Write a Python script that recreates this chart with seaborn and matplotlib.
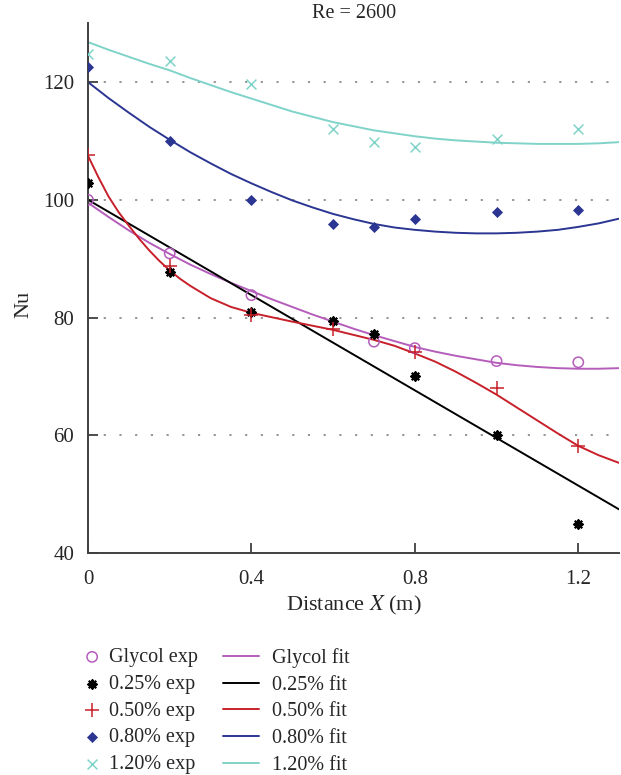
import matplotlib
matplotlib.use('Agg')
import matplotlib.pyplot as plt
import seaborn as sns
import pandas as pd

# experimental points
x_glycol = [0, 0.2, 0.4, 0.7, 0.8, 1.0, 1.2]
nu_glycol = [100, 90.9, 83.8, 75.9, 74.8, 72.6, 72.4]
x_025 = [0, 0.2, 0.4, 0.6, 0.7, 0.8, 1.0, 1.2]
nu_025 = [102.8, 87.8, 80.9, 79.4, 77.2, 70.1, 60.1, 44.9]
x_050 = [0, 0.2, 0.4, 0.6, 0.8, 1.0, 1.2]
nu_050 = [107.6, 88.8, 80.4, 78.1, 74.2, 68.0, 58.1]
x_080 = [0, 0.2, 0.4, 0.6, 0.7, 0.8, 1.0, 1.2]
nu_080 = [122.6, 110.0, 99.9, 95.9, 95.3, 96.8, 97.9, 98.3]
x_120 = [0, 0.2, 0.4, 0.6, 0.7, 0.8, 1.0, 1.2]
nu_120 = [124.8, 123.6, 119.7, 112.0, 109.8, 108.9, 110.4, 112.0]

# fitted curves
xf = [0, 0.05, 0.1, 0.15, 0.2, 0.25, 0.3, 0.35, 0.4, 0.45, 0.5, 0.55, 0.6, 0.65, 0.7,
      0.75, 0.8, 0.85, 0.9, 0.95, 1.0, 1.05, 1.1, 1.15, 1.2, 1.25, 1.3]
fit_glycol = [99.5, 97.1, 94.8, 92.7, 90.8, 89.0, 87.4, 85.9, 84.5, 83.1, 81.8, 80.5, 79.3,
              78.1, 77.0, 76.0, 75.0, 74.2, 73.5, 72.9, 72.3, 71.9, 71.6, 71.4, 71.3, 71.3, 71.4]
fit_080 = [120.0, 117.3, 114.8, 112.4, 110.2, 108.1, 106.2, 104.4, 102.8, 101.3, 99.9, 98.7,
           97.6, 96.7, 95.9, 95.3, 94.9, 94.6, 94.4, 94.3, 94.3, 94.4, 94.6, 94.9, 95.4, 96.0, 96.8]
fit_120 = [126.8, 125.5, 124.3, 123.1, 122.0, 120.7, 119.5, 118.3, 117.2, 116.1, 115.0, 114.1,
           113.2, 112.5, 111.8, 111.3, 110.8, 110.4, 110.1, 109.9, 109.7, 109.6, 109.5, 109.5,
           109.5, 109.6, 109.8]
xf_025 = [0, 1.3]
fit_025 = [100.0, 47.4]
xf_050 = [0, 0.025, 0.05, 0.075, 0.1, 0.125, 0.15, 0.175, 0.2, 0.225, 0.25, 0.3, 0.35, 0.4, 0.5,
          0.6, 0.7, 0.75, 0.8, 0.85, 0.9, 0.95, 1.0, 1.05, 1.1, 1.15, 1.2, 1.25, 1.3]
fit_050 = [107.5, 103.9, 100.6, 97.9, 95.6, 93.4, 91.4, 89.6, 88.0, 86.6, 85.4, 83.3, 81.8, 80.8,
           79.3, 77.9, 76.2, 75.2, 73.9, 72.5, 70.8, 68.9, 66.9, 64.7, 62.5, 60.3, 58.2, 56.6, 55.3]

c_glycol = '#b55dbb'
c_025 = '#000000'
c_050 = '#c8202b'
c_080 = '#2b3592'
c_120 = '#7fd3c8'

sns.set_style('ticks')
plt.rcParams['font.family'] = ['Liberation Serif', 'DejaVu Serif']
plt.rcParams['mathtext.fontset'] = 'stix'

fig = plt.figure(figsize=(6.21, 7.75), dpi=100)
ax = fig.add_axes([0.1417, 0.2865, 0.8553, 0.6835])

# gridlines
for g in [60, 80, 100, 120]:
    ax.axhline(g, color='#8c8c8c', lw=1.3, ls=(0, (1.2, 7.5)), zorder=0)

exp_sets = [
    (x_glycol, nu_glycol, 'Glycol exp', c_glycol, 'o', dict(facecolors='none', edgecolors=c_glycol, s=55, linewidths=1.1)),
    (x_025, nu_025, '0.25% exp', c_025, (8, 2, 0), dict(s=35, linewidths=1.6)),
    (x_050, nu_050, '0.50% exp', c_050, '+', dict(s=95, linewidths=1.1)),
    (x_080, nu_080, '0.80% exp', c_080, 'D', dict(s=32, linewidths=0)),
    (x_120, nu_120, '1.20% exp', c_120, 'x', dict(s=50, linewidths=1.1)),
]
fit_sets = [
    (xf, fit_glycol, 'Glycol fit', c_glycol),
    (xf_025, fit_025, '0.25% fit', c_025),
    (xf_050, fit_050, '0.50% fit', c_050),
    (xf, fit_080, '0.80% fit', c_080),
    (xf, fit_120, '1.20% fit', c_120),
]

for xs, ys, lab, col in fit_sets:
    sns.lineplot(x=xs, y=ys, color=col, lw=1.4, label=lab, ax=ax, sort=False, estimator=None)

for xs, ys, lab, col, mk, kw in exp_sets:
    if 'edgecolors' in kw:
        sns.scatterplot(x=xs, y=ys, marker=mk, label=lab, ax=ax, zorder=3, **kw)
    else:
        sns.scatterplot(x=xs, y=ys, marker=mk, color=col, label=lab, ax=ax, zorder=3, **kw)

ax.set_xlim(0, 1.3)
ax.set_ylim(40, 130)
ax.set_xticks([0, 0.4, 0.8, 1.2])
ax.set_xticklabels(['0', '0.4', '0.8', '1.2'])
ax.set_yticks([40, 60, 80, 100, 120])
ax.tick_params(direction='in', length=7, width=1.3, color='#404040', labelsize=15)
ax.tick_params(axis='x', pad=12)
ax.tick_params(axis='y', pad=10)
for s in ['top', 'right']:
    ax.spines[s].set_visible(False)
for s in ['left', 'bottom']:
    ax.spines[s].set_color('#404040')
    ax.spines[s].set_linewidth(1.4)

ax.set_xlabel('Distance $\\mathit{X}$ (m)', fontsize=16, labelpad=4)
ax.set_ylabel('Nu', fontsize=16)
ax.yaxis.set_label_coords(-0.103, 0.47)
ax.set_title('Re = 2600', fontsize=14.5, pad=1)

handles, labels = ax.get_legend_handles_labels()
hmap = dict(zip(labels, handles))
exp_labels = [e[2] for e in exp_sets]
fit_labels = [f[2] for f in fit_sets]
if ax.get_legend():
    ax.get_legend().remove()

fig.legend([hmap[l] for l in exp_labels], exp_labels, loc='upper left',
           bbox_to_anchor=(74 / 621, 1 - 640 / 775), frameon=False, fontsize=14.5,
           handlelength=1.0, handletextpad=0.35, labelspacing=0.38, borderaxespad=0)
fig.legend([hmap[l] for l in fit_labels], fit_labels, loc='upper left',
           bbox_to_anchor=(215 / 621, 1 - 640 / 775), frameon=False, fontsize=14.5,
           handlelength=1.8, handletextpad=0.65, labelspacing=0.38, borderaxespad=0)

fig.savefig('out.png', dpi=100)
